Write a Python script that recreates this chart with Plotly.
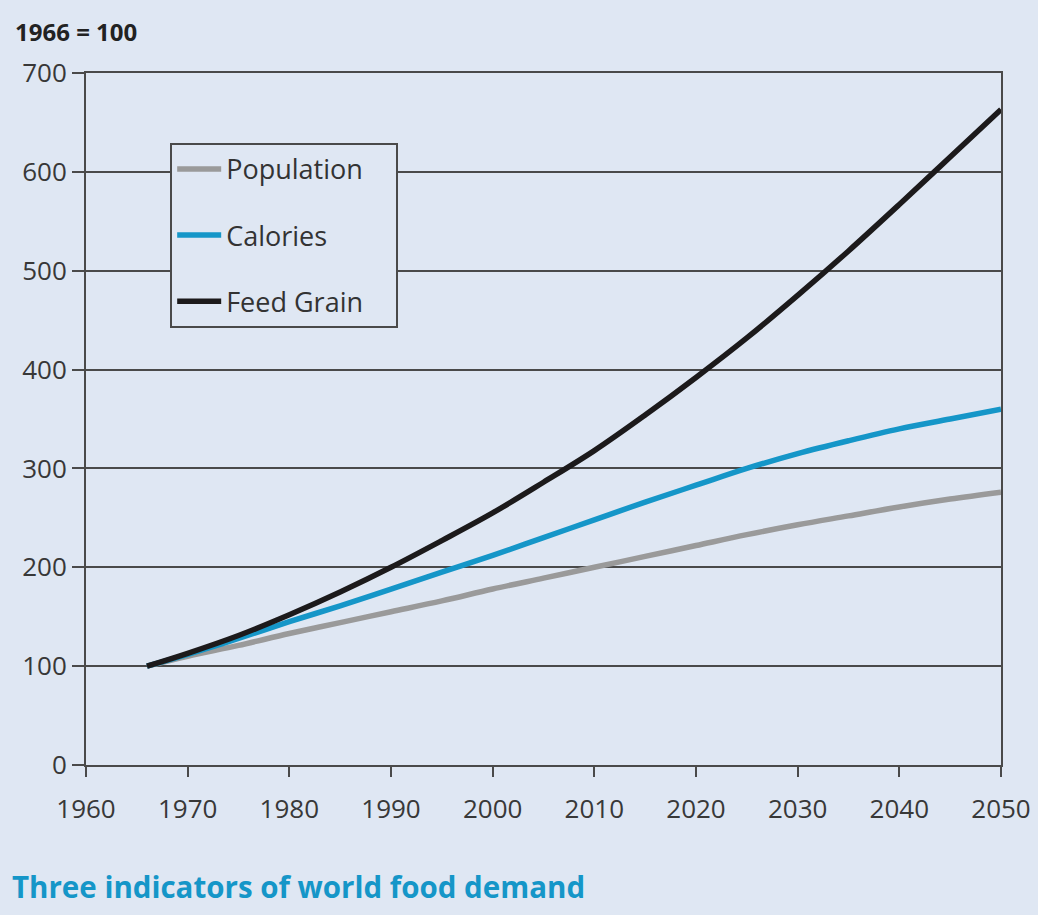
import plotly.graph_objects as go

years = [1966, 1970, 1975, 1980, 1985, 1990, 1995, 2000, 2005, 2010, 2015, 2020, 2025, 2030, 2035, 2040, 2045, 2050]
population = [100, 110, 121, 133, 144, 155, 166, 178, 189, 200, 211, 222, 233, 243, 252, 261, 269, 276]
calories = [100, 112, 128, 145, 161, 178, 195, 212, 230, 248, 266, 283, 300, 315, 328, 340, 350, 360]
feed_grain = [100, 113, 131, 152, 175, 200, 227, 255, 286, 318, 354, 392, 432, 475, 520, 567, 615, 663]

series_names = ["Population", "Calories", "Feed Grain"]
series_colors = ["#9a9a9a", "#1596c8", "#1c1a1b"]
x_ticks = [1960, 1970, 1980, 1990, 2000, 2010, 2020, 2030, 2040, 2050]
y_ticks = [0, 100, 200, 300, 400, 500, 600, 700]

BG = "#dfe7f3"
AX = "#4a4a4a"
FONT = "Open Sans"

fig = go.Figure()
for name, vals, col in zip(series_names, [population, calories, feed_grain], series_colors):
    fig.add_trace(go.Scatter(x=years, y=vals, mode="lines", name=name + "&nbsp;&nbsp;&nbsp;&nbsp;",
                             line=dict(color=col, width=5.5, shape="spline"),
                             legendgroup=name))

fig.update_layout(
    width=1038, height=915,
    paper_bgcolor=BG, plot_bgcolor=BG,
    margin=dict(l=86, r=37, t=73, b=150, autoexpand=False),
    font=dict(family=FONT, color="#333333", size=25),
    showlegend=True,
    legend=dict(x=0.092, y=0.899, xanchor="left", yanchor="top",
                bgcolor=BG, bordercolor=AX, borderwidth=2,
                font=dict(size=27, color="#333333", family=FONT),
                tracegroupgap=28, traceorder="grouped",
                itemwidth=44),
    xaxis=dict(range=[1960, 2050], tickvals=x_ticks, showgrid=False,
               showline=True, linecolor=AX, linewidth=2, mirror=True,
               ticks="outside", ticklen=10, tickwidth=2, tickcolor=AX,
               ticklabelstandoff=10, automargin=False,
               zeroline=False, tickfont=dict(size=26, color="#383838")),
    yaxis=dict(range=[0, 700], tickvals=y_ticks, showgrid=True,
               gridcolor=AX, gridwidth=2, automargin=False,
               showline=True, linecolor=AX, linewidth=2, mirror=True,
               ticks="outside", ticklen=12, tickwidth=2, tickcolor=AX,
               zeroline=False, tickfont=dict(size=26, color="#383838")),
    annotations=[
        dict(text="<b>1966 = 100</b>", xref="paper", yref="paper",
             x=-0.08, y=1.06, xanchor="left", yanchor="middle", showarrow=False,
             font=dict(size=24, color="#222222", family=FONT)),
        dict(text="<b>Three indicators of world food demand</b>", xref="paper", yref="paper",
             x=-0.083, y=-0.176, xanchor="left", yanchor="middle", showarrow=False,
             font=dict(size=29.5, color="#1596c8", family=FONT)),
    ],
)

fig.write_html("out.html", config={"displayModeBar": False},
               post_script="document.body.style.margin='0';")
